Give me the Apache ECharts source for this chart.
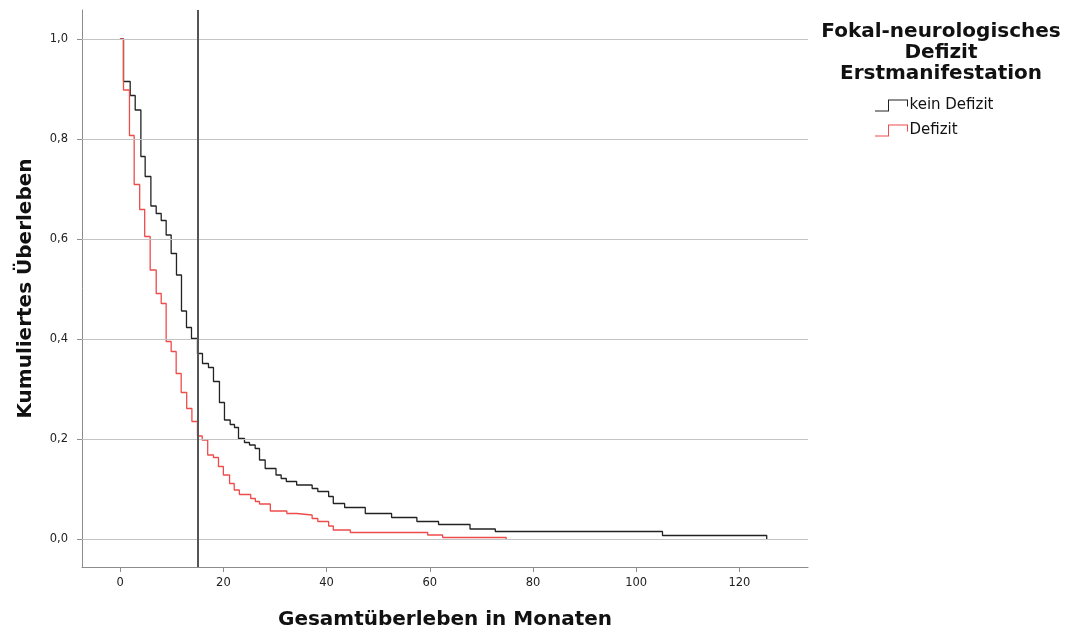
<!DOCTYPE html>
<html>
<head>
<meta charset="utf-8">
<script src="https://cdn.jsdelivr.net/npm/echarts@6/dist/echarts.min.js"></script>
<style>
  html, body { margin: 0; padding: 0; background: #fff; }
  #chart { width: 1065px; height: 630px; }
</style>
</head>
<body>
<div id="chart"></div>
<script>
// Kaplan-Meier Schätzungen: [Monate, kumuliertes Überleben]
const keinDefizit = [
  [0, 1.0], [0.64, 0.915], [1.94, 0.887], [2.91, 0.858], [4.01, 0.765], [4.84, 0.725],
  [5.95, 0.666], [6.98, 0.651], [7.95, 0.637], [8.91, 0.608], [9.88, 0.571], [10.91, 0.528],
  [11.88, 0.456], [12.85, 0.423], [13.82, 0.401], [14.98, 0.371], [15.95, 0.351], [17.11, 0.343],
  [18.08, 0.315], [19.24, 0.273], [20.21, 0.238], [21.32, 0.229], [22.15, 0.223], [22.93, 0.201],
  [24.09, 0.193], [25.06, 0.188], [26.16, 0.181], [27.0, 0.158], [28.1, 0.141], [30.2, 0.128],
  [31.2, 0.121], [32.2, 0.115], [34.2, 0.108], [37.2, 0.101], [38.3, 0.095], [40.4, 0.085],
  [41.3, 0.071], [43.5, 0.063], [47.5, 0.051], [52.6, 0.043], [57.5, 0.035], [61.7, 0.029],
  [67.8, 0.020], [72.7, 0.015], [105.1, 0.007], [125.3, 0.0]
];
const defizit = [
  [0, 1.0], [0.64, 0.898], [1.8, 0.807], [2.71, 0.709], [3.78, 0.659], [4.75, 0.605],
  [5.81, 0.538], [6.98, 0.491], [7.95, 0.471], [8.91, 0.395], [9.88, 0.375], [10.85, 0.331],
  [11.82, 0.293], [12.89, 0.261], [13.9, 0.235], [14.98, 0.206], [15.9, 0.198], [16.96, 0.168],
  [18.08, 0.163], [19.05, 0.145], [20.0, 0.128], [21.2, 0.111], [22.1, 0.098], [23.1, 0.089],
  [25.3, 0.081], [26.2, 0.075], [27.0, 0.070], [29.1, 0.056], [32.3, 0.051], [34.2, 0.048],
  [37.2, 0.041], [38.3, 0.035], [40.4, 0.026], [41.3, 0.018], [44.6, 0.013], [59.6, 0.008],
  [62.5, 0.003], [74.8, 0.0]
];
const xTicks = [0, 20, 40, 60, 80, 100, 120];
const yTicks = [0, 0.2, 0.4, 0.6, 0.8, 1.0];
const referenzMonat = 15;

// Treppen-Symbol wie in der SPSS-Legende
const stepIcon = 'path://M0,11 L13,11 L13,0 L33,0 L33,7 L32,7 L32,1 L14,1 L14,12 L0,12 Z';
const font = 'DejaVu Sans';

const chart = echarts.init(document.getElementById('chart'));

chart.setOption({
  animation: false,
  grid: { left: 82, right: 257, top: 10, bottom: 63, containLabel: false, outerBoundsMode: 'none' },
  graphic: [{
    type: 'text',
    x: 941, y: 21,
    style: {
      text: 'Fokal-neurologisches\nDefizit\nErstmanifestation',
      align: 'center',
      font: 'bold 20px "DejaVu Sans"',
      lineHeight: 21,
      fill: '#111'
    }
  }],
  legend: {
    orient: 'vertical',
    left: 870, top: 93,
    itemWidth: 34, itemHeight: 12, itemGap: 10,
    icon: stepIcon,
    itemStyle: { borderWidth: 0 },
    textStyle: { fontFamily: font, fontSize: 15, color: '#111', padding: [0, 0, 0, -4] },
    data: ['kein Defizit', 'Defizit']
  },
  xAxis: {
    type: 'value',
    min: -7.4, max: 133.3,
    name: 'Gesamtüberleben in Monaten',
    nameLocation: 'middle',
    nameGap: 43,
    nameTextStyle: { fontFamily: font, fontSize: 20, fontWeight: 'bold', color: '#111' },
    axisLine: { show: true, onZero: false, lineStyle: { color: '#8c8c8c', width: 1 } },
    axisTick: { show: true, customValues: xTicks, length: 5, lineStyle: { color: '#8c8c8c' } },
    axisLabel: { customValues: xTicks, fontFamily: font, fontSize: 11.5, color: '#222', margin: 10 },
    splitLine: { show: false }
  },
  yAxis: {
    type: 'value',
    min: -0.056, max: 1.058,
    name: 'Kumuliertes Überleben',
    nameLocation: 'middle',
    nameRotate: 90,
    nameGap: 46,
    nameTextStyle: { fontFamily: font, fontSize: 20, fontWeight: 'bold', color: '#111' },
    axisLine: { show: true, onZero: false, lineStyle: { color: '#8c8c8c', width: 1 } },
    axisTick: { show: true, customValues: yTicks, length: 5, lineStyle: { color: '#8c8c8c' } },
    axisLabel: {
      customValues: yTicks, fontFamily: font, fontSize: 11.5, color: '#222', margin: 14,
      formatter: v => v.toFixed(1).replace('.', ',')
    },
    splitLine: { show: false }
  },
  series: [
    {
      // Gitterlinien und Referenzlinie bei 15 Monaten
      name: 'raster',
      type: 'line',
      data: [],
      silent: true,
      z: 1,
      markLine: {
        silent: true,
        symbol: 'none',
        label: { show: false },
        animation: false,
        data: [
          ...yTicks.map(v => ({ yAxis: v, lineStyle: { color: '#c4c4c4', width: 1, type: 'solid' } })),
          { xAxis: referenzMonat, lineStyle: { color: '#555', width: 2, type: 'solid' } }
        ]
      }
    },
    {
      name: 'kein Defizit',
      type: 'line',
      step: 'end',
      data: keinDefizit,
      showSymbol: false,
      z: 3,
      itemStyle: { color: '#222' },
      lineStyle: { color: '#222', width: 1.3 }
    },
    {
      name: 'Defizit',
      type: 'line',
      step: 'end',
      data: defizit,
      showSymbol: false,
      z: 4,
      itemStyle: { color: '#ee4b4b' },
      lineStyle: { color: '#ee4b4b', width: 1.3 }
    }
  ]
});
</script>
</body>
</html>
